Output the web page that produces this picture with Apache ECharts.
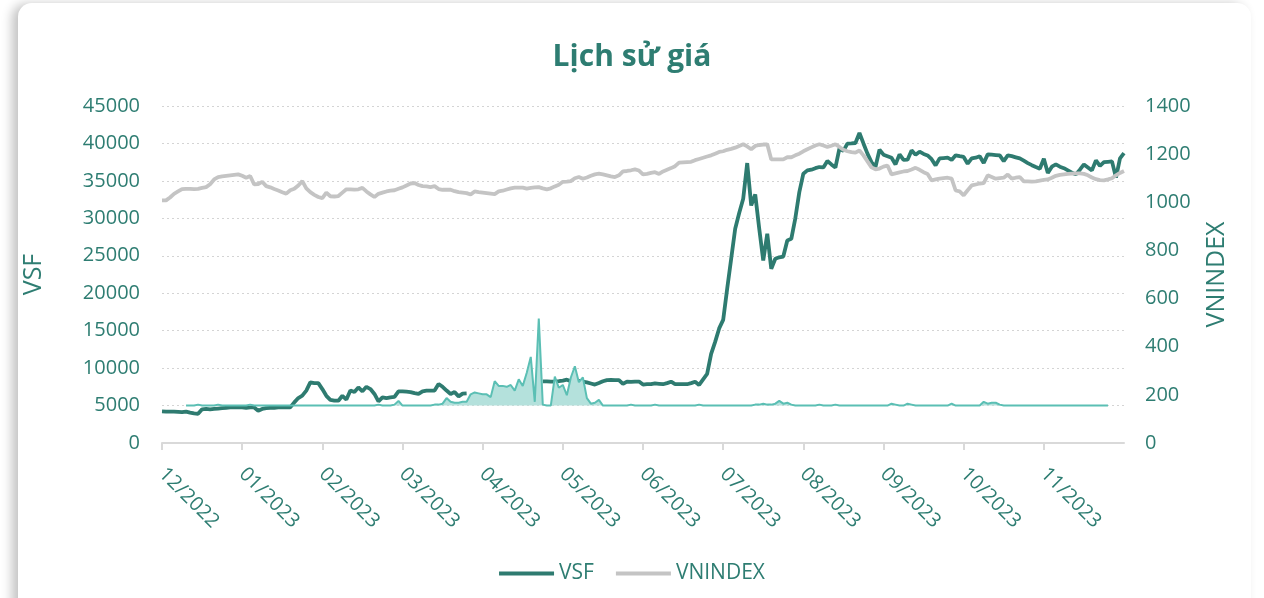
<!DOCTYPE html>
<html>
<head>
<meta charset="utf-8">
<script src="https://cdn.jsdelivr.net/npm/echarts@6/dist/echarts.min.js"></script>
<style>
html,body{margin:0;padding:0;background:#ffffff;width:1264px;height:598px;overflow:hidden;}
#card{position:absolute;left:18px;top:3px;width:1233px;height:660px;background:#fff;border-radius:14px;box-shadow:-6px 1px 11px rgba(0,0,0,0.24);}
#chart{position:absolute;left:0;top:0;width:1264px;height:598px;}
</style>
</head>
<body>
<div id="card"></div>
<div id="chart"></div>
<script>
// Month tick labels (one every 20 trading sessions)
var tickLabels = ['12/2022','01/2023','02/2023','03/2023','04/2023','05/2023','06/2023','07/2023','08/2023','09/2023','10/2023','11/2023'];

// VSF closing price (left axis), one row per 20 sessions
var vsf = [
  4230,4200,4200,4180,4150,4120,4200,4050,3950,3900,4500,4550,4500,4550,4600,4650,4700,4750,4800,4760,
  4750,4700,4750,4750,4320,4550,4650,4700,4700,4750,4750,4760,4760,5430,6000,6320,7000,8100,8000,8000,
  7200,6300,5750,5650,5650,6300,5800,7000,6800,7430,6900,7500,7200,6550,5560,6100,6000,6100,6150,6900,
  6900,6850,6800,6650,6550,6900,7000,7000,7000,7890,7500,7000,6550,6800,6230,6600,6630,null,null,null,
  null,null,null,null,null,null,null,null,null,null,null,null,null,null,null,8240,8240,8200,8200,8250,
  8330,8450,8250,8300,8300,8200,8100,7950,7800,8000,8240,8400,8420,8400,8400,7890,8200,8150,8200,8200,
  7800,7850,7850,7950,7900,7850,8000,8190,7850,7850,7850,7850,8000,8190,7750,8500,9220,11900,13500,15300,
  16440,20590,24600,28610,30700,32620,37380,31720,33190,28610,24370,27940,23260,24600,24800,24900,27050,27270,30000,33500,
  35960,36400,36500,36700,36850,36800,37650,37200,36770,39300,39000,39980,40000,40060,41400,40000,38640,37500,36850,39170,
  38500,38300,38100,37200,38540,37800,37830,39070,38500,38900,38600,38400,37900,37070,38000,38050,38100,37800,38410,38300,
  38200,37300,38000,38100,38300,37380,38540,38500,38450,38400,37650,38400,38300,38150,38000,37700,37380,37100,36850,36630,
  37970,36040,36900,37200,36900,36700,36400,36100,35870,36500,37200,36800,36400,37740,37000,37500,37550,37600,35430,38000,
  38700
];

// VNINDEX (right axis)
var vnindex = [
  1008,1008,1020,1035,1045,1055,1056,1056,1055,1056,1060,1063,1075,1095,1105,1108,1110,1112,1114,1116,
  1110,1102,1109,1074,1076,1085,1067,1062,1055,1049,1042,1036,1050,1056,1070,1088,1058,1042,1031,1022,
  1017,1040,1025,1024,1026,1040,1054,1054,1053,1054,1060,1045,1033,1022,1035,1040,1045,1048,1050,1056,
  1062,1070,1078,1080,1072,1067,1066,1063,1067,1055,1052,1052,1052,1046,1042,1040,1038,1032,1045,1042,
  1040,1038,1036,1034,1045,1048,1053,1058,1061,1061,1061,1057,1060,1062,1063,1058,1054,1058,1066,1073,
  1085,1086,1088,1100,1105,1098,1103,1110,1116,1119,1116,1112,1108,1105,1112,1128,1130,1133,1137,1132,
  1116,1118,1122,1125,1118,1128,1135,1142,1150,1165,1166,1167,1168,1175,1180,1185,1190,1195,1202,1209,
  1212,1218,1222,1227,1234,1241,1232,1220,1234,1238,1240,1241,1178,1178,1178,1178,1187,1187,1195,1202,
  1212,1220,1228,1236,1241,1236,1230,1235,1241,1230,1218,1212,1208,1206,1215,1195,1170,1145,1137,1140,
  1148,1153,1116,1120,1124,1128,1130,1136,1143,1135,1125,1118,1091,1095,1098,1100,1102,1098,1049,1045,
  1029,1050,1070,1074,1078,1080,1112,1105,1098,1100,1102,1115,1098,1102,1105,1087,1087,1086,1087,1090,
  1093,1095,1102,1110,1114,1116,1118,1119,1120,1120,1118,1112,1103,1096,1092,1091,1095,1100,1112,1122,
  1130
];

// Trading volume (hidden third axis, thousand shares)
var volume = [
  null,null,null,null,null,null,0,0,0,1,0,0,0,0,1,0,0,0,0,0,
  0,0,1,0,0,0,0,0,0,0,0,0,0,0,0,0,0,0,0,0,
  0,0,0,0,0,0,0,0,0,0,0,0,0,0,1,0,0,0,1,5,
  0,0,0,0,0,0,0,0,1,1,2,8,4,3,3,4,4,12,14,13,
  12,12,9,26,21,21,20,22,16,28,21,35,52,4,93,1,0,0,31,19,
  22,11,30,42,25,30,8,2,3,6,0,0,0,0,0,0,0,1,0,0,
  0,0,0,1,0,0,0,0,0,0,0,0,0,0,1,0,0,0,0,0,
  0,0,0,0,0,0,0,0,1,1,2,1,1,2,5,2,3,1,0,0,
  0,0,0,0,1,0,0,0,1,0,0,0,0,0,0,0,0,0,0,0,
  0,0,2,1,0,0,2,1,0,0,0,0,0,0,0,0,0,2,0,0,
  0,0,0,0,0,4,2,3,3,1,0,0,0,0,0,0,0,0,0,0,
  0,0,0,0,0,0,0,0,0,0,0,0,0,0,0,0,0,null,null,null,
  null
];

var categories = vsf.map(function(_, i){ return 'S' + i; });

var TEAL = '#2e7d72';
var FONT = 'Open Sans';
var chart = echarts.init(document.getElementById('chart'), null, {renderer:'canvas'});
function showTick(i){ return i % 20 === 0 && i / 20 < tickLabels.length; }
function plain(v){ return String(v); }
chart.setOption({
  animation:false,
  textStyle:{fontFamily:FONT},
  title:{text:'Lịch sử giá', left:'center', top:37,
    textStyle:{color:TEAL, fontSize:30, fontWeight:'bold', fontFamily:FONT}},
  legend:{data:['VSF','VNINDEX'], left:'center', top:558, itemWidth:55, itemHeight:4, itemGap:22, icon:'rect',
    textStyle:{color:TEAL, fontSize:21, fontFamily:FONT}},
  grid:{left:162, right:140, top:106, bottom:155, containLabel:false},
  xAxis:{type:'category', data:categories, boundaryGap:false,
    axisLine:{lineStyle:{color:'#d9d9d9', width:2}},
    axisTick:{show:true, interval:function(i){return showTick(i);}, length:7, lineStyle:{color:'#d9d9d9', width:2}},
    axisLabel:{interval:function(i){return showTick(i);}, rotate:-45, margin:28, color:TEAL, fontSize:20, fontFamily:FONT,
      formatter:function(v, i){ return showTick(i) ? tickLabels[i/20] : ''; }},
    splitLine:{show:false}},
  yAxis:[
    {type:'value', min:0, max:45000, interval:5000, position:'left',
      name:'VSF', nameLocation:'middle', nameGap:116, nameTextStyle:{color:TEAL, fontSize:25, fontFamily:FONT},
      axisLine:{show:false}, axisTick:{show:false},
      axisLabel:{color:TEAL, fontSize:20, margin:22, fontFamily:FONT, formatter:plain},
      splitLine:{show:true, lineStyle:{color:'#d4d4d4', type:[2,3], width:1}}},
    {type:'value', min:0, max:1400, interval:200, position:'right',
      name:'VNINDEX', nameLocation:'middle', nameGap:80, nameTextStyle:{color:TEAL, fontSize:25, fontFamily:FONT},
      axisLine:{show:false}, axisTick:{show:false},
      axisLabel:{color:TEAL, fontSize:20, margin:21, fontFamily:FONT, formatter:plain},
      splitLine:{show:false}},
    {type:'value', min:-40, max:320, show:false, splitLine:{show:false}}
  ],
  series:[
    {name:'VSF', type:'line', yAxisIndex:0, data:vsf, symbol:'none', connectNulls:false,
      lineStyle:{color:'#2e7b70', width:3.8}, itemStyle:{color:'#2e7b70'}, z:3},
    {name:'VNINDEX', type:'line', yAxisIndex:1, data:vnindex, symbol:'none',
      lineStyle:{color:'#c4c4c4', width:3.8}, itemStyle:{color:'#c4c4c4'}, z:4},
    {name:'Khối lượng', type:'line', yAxisIndex:2, data:volume, symbol:'none',
      lineStyle:{color:'#5bbfb4', width:2}, itemStyle:{color:'#5bbfb4'},
      areaStyle:{color:'#b4e1dc', opacity:1, origin:'auto'}, z:5}
  ]
});
</script>
</body>
</html>
